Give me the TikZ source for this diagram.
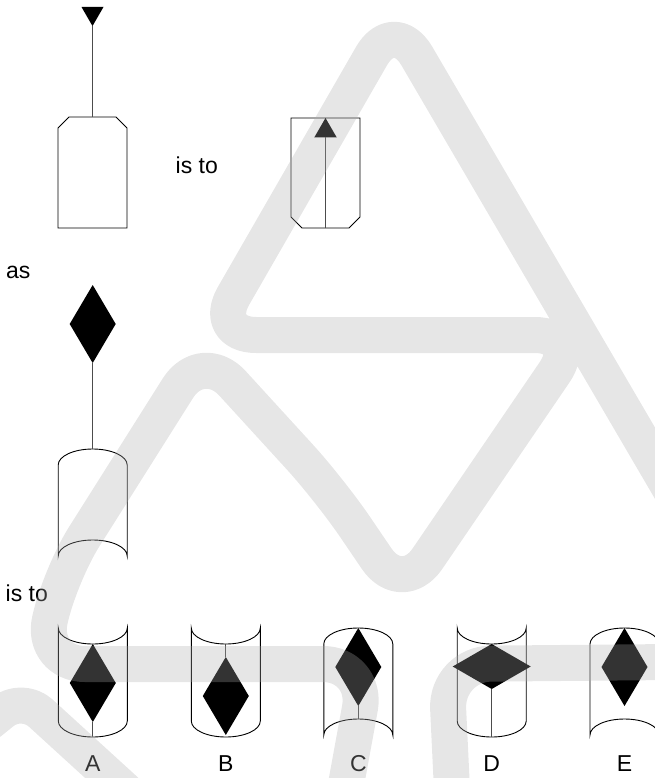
\documentclass[tikz,border=0pt]{standalone}
\usepackage{fontspec}
\setmainfont{Liberation Sans}
\usetikzlibrary{shapes.geometric}

\definecolor{wmgray}{RGB}{171,171,171}

% can whose two rims bow upwards: name, centre x, top of sides, foot of sides
\newcommand{\canup}[4]{%
  \draw[outline] (#2-34.5,#4) -- (#2-34.5,#3)
    arc[start angle=180,end angle=360,x radius=34.5,y radius=16]
    -- (#2+34.5,#4)
    arc[start angle=0,end angle=-180,x radius=34.5,y radius=16] -- cycle;
  \coordinate (#1 top) at (#2,#3-16);
  \coordinate (#1 bot) at (#2,#4-16);
}
% the same can turned upside down
\newcommand{\candown}[4]{%
  \draw[outline] (#2-34.5,#4) -- (#2-34.5,#3)
    arc[start angle=180,end angle=0,x radius=34.5,y radius=16]
    -- (#2+34.5,#4)
    arc[start angle=0,end angle=180,x radius=34.5,y radius=16] -- cycle;
  \coordinate (#1 top) at (#2,#3+16);
  \coordinate (#1 bot) at (#2,#4+16);
}

\begin{document}
\begin{tikzpicture}[
  x=1pt, y=-1pt,
  font=\fontsize{23}{27}\selectfont,
  outline/.style={draw=black, line width=0.9pt},
  stem/.style={draw=black!70, line width=1.2pt},
  gem/.style={diamond, fill=black, inner sep=0pt, outer sep=0pt, minimum width=46pt, minimum height=78pt},
  tri/.style={regular polygon, regular polygon sides=3, fill=black, inner sep=0pt, outer sep=0pt, minimum size=25.4pt},
  word/.style={inner sep=0pt, anchor=base west},
  letter/.style={inner sep=0pt, anchor=base},
  wmark/.style={draw=wmgray, line width=36pt, opacity=0.3, line cap=round, line join=round, rounded corners=45pt},
]
\useasboundingbox (0,0) rectangle (655,778);

% first pair
\draw[outline] (58,228) -- (58,128) -- (69,117) -- (116,117) -- (127,128) -- (127,228) -- cycle;
\coordinate (boxL top) at (92.5,117);
\node[tri, rotate=180] (triL) at (92.5,13.35) {};
\draw[stem] (triL.corner 1) -- (boxL top);

\node[word] (isto1) at (175.5,173) {is to};

\draw[outline] (291,118) -- (291,217) -- (302,228) -- (349,228) -- (360,217) -- (360,118) -- cycle;
\coordinate (boxR bot) at (325.5,228);
\node[tri, minimum size=26pt] (triR) at (325.5,131) {};
\draw[stem] (boxR bot) -- (triR.side 2);

\node[word] (as) at (6,278) {as};

% question can
\node[gem] (gemQ) at (92.7,324) {};
\canup{canQ}{92.7}{465}{556}
\draw[stem] (gemQ.south) -- (canQ top);

\node[word] (isto2) at (5.5,601.5) {is to};

% answers
\candown{canA}{92.8}{628}{721}
\node[gem, anchor=north] (gemA) at (canA top) {};
\draw[stem] (gemA.south) -- (canA bot);

\candown{canB}{225.8}{628}{721}
\node[gem, anchor=north] (gemB) at (225.8,657) {};
\draw[stem] (canB top) -- (gemB.north);

\canup{canC}{358.3}{644}{735}
\node[gem, anchor=north] (gemC) at (canC top) {};
\draw[stem] (gemC.south) -- (canC bot);

\candown{canD}{491.7}{628}{721}
\node[gem, minimum width=78pt, minimum height=45pt, anchor=north] (gemD) at (canD top) {};
\draw[stem] (gemD.south) -- (canD bot);

\canup{canE}{624.5}{644}{735}
\node[gem, anchor=north] (gemE) at (canE top) {};

\foreach \lab/\cx in {A/92.8, B/225.8, C/358.3, D/491.7, E/624.5}
  \node[letter] (lab\lab) at (\cx,771.5) {\lab};

% watermark
\draw[wmark] (673,494) -- (394,17) -- (211,335) -- (580,335) -- (402,596) -- (330,490)
  -- (202,350) -- (60,575) -- (40,664) -- (368,664) -- (345,790);
\draw[wmark] (452,790) -- (446,664) -- (673,662);
\draw[wmark, rounded corners=25pt] (-10,722) -- (22,696) -- (125,790);
\end{tikzpicture}
\end{document}
